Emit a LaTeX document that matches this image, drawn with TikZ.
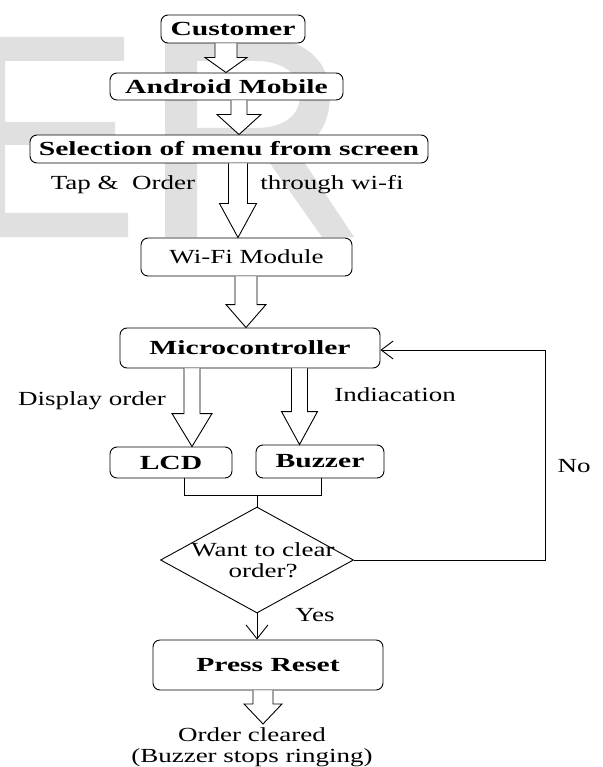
\documentclass[tikz,border=0pt]{standalone}
\usepackage{fontspec}
\setmainfont{Liberation Serif}[UprightFeatures={FakeStretch=1.35},BoldFeatures={FakeStretch=1.48}]
\usetikzlibrary{calc,shapes.geometric,arrows.meta}
\newcommand\blk[6]{%
  \draw[blk] let \p1=(#1.south), \p2=(#2.north) in
    ({(#3-#4)*1pt},\y1) -- ({(#3-#4)*1pt},{\y2+#6*1pt}) -- ({(#3-#5)*1pt},{\y2+#6*1pt})
    -- ({#3*1pt},\y2) -- ({(#3+#5)*1pt},{\y2+#6*1pt}) -- ({(#3+#4)*1pt},{\y2+#6*1pt})
    -- ({(#3+#4)*1pt},\y1);}
\tikzset{
  box/.style={draw, fill=white, rounded corners=7pt, inner sep=0pt, font=\fontsize{20}{21}\selectfont\bfseries},
  pbox/.style={draw, fill=white, rounded corners=7pt, inner sep=0pt},
  lbl/.style={inner sep=0pt},
  blk/.style={draw, fill=white, line join=miter},
  wm/.style={fill=black!12, draw=none, even odd rule},
  barb/.style={-{Straight Barb[length=12pt,width=18pt]}}
}
\begin{document}
\begin{tikzpicture}[x=1pt, y=-1pt, line width=0.9pt, font=\fontsize{20}{21}\selectfont]
\fill[white] (0,0) rectangle (602,767);
\useasboundingbox (0,0) rectangle (602,767);
% watermark
\fill[wm] (0,37) -- (124,37) -- (124,61) -- (5,61) -- (5,122) -- (115,122) -- (115,145)
  -- (5,145) -- (5,213) -- (128,213) -- (128,237) -- (0,237) -- cycle;
\fill[wm] (165,37) -- (258,37) .. controls (305,37) and (330,62) .. (330,95)
  .. controls (330,125) and (315,145) .. (296,150) -- (354,237) -- (322,237) -- (262,152)
  -- (197,152) -- (197,237) -- (165,237) -- cycle
  (197,61) -- (255,61) .. controls (285,61) and (300,75) .. (300,95)
  .. controls (300,115) and (285,128) .. (255,128) -- (197,128) -- cycle;
% nodes
\node[box, minimum width=144pt, minimum height=28pt] (cust) at (233,29) {Customer};
\node[box, minimum width=233pt, minimum height=27pt] (andr) at (226.5,86.5) {Android Mobile};
\node[box, minimum width=398pt, minimum height=28pt] (sel) at (229,149) {Selection of menu from screen};
\node[pbox, minimum width=211pt, minimum height=38pt] (wifi) at (246.5,257) {Wi-Fi Module};
\node[box, minimum width=260pt, minimum height=40pt] (mcu) at (250,348) {Microcontroller};
\node[box, minimum width=122pt, minimum height=31pt] (lcd) at (171,462.5) {LCD};
\node[box, minimum width=128pt, minimum height=33pt] (buz) at (320,461.5) {Buzzer};
\node[diamond, draw, fill=white, minimum width=193pt, minimum height=106pt, inner sep=0pt] (dec) at (257,560) {};
\node[lbl, align=center] (dect) at (263,560) {Want to clear\\order?};
\node[box, minimum width=230pt, minimum height=50pt] (rst) at (268,665) {Press Reset};
\node[lbl, inner ysep=3pt, align=center] (done) at (252,747) {Order cleared\\(Buzzer stops ringing)};
% labels
\node[lbl] (tap) at (123,185) {Tap \&\ \ Order};
\node[lbl] (thr) at (332,185) {through wi-fi};
\node[lbl] (disp) at (92,401) {Display order};
\node[lbl] (ind) at (395,395) {Indiacation};
\node[lbl] (no) at (574,466) {No};
\node[lbl] (yes) at (315,615) {Yes};
% block arrows
\blk{cust}{andr}{226}{11}{21}{15}
\blk{andr}{sel}{239}{8}{22}{20}
\blk{sel}{wifi}{238}{9.5}{18.5}{34}
\blk{wifi}{mcu}{246}{11}{20}{23}
\blk{mcu}{lcd}{192}{8}{20}{33}
\blk{mcu}{buz}{299.5}{8}{18}{33}
\blk{rst}{done}{263}{10}{19}{20}
% join lines
\coordinate (j1) at (184,495);
\coordinate (j2) at (321,495);
\draw (lcd.south -| j1) -- (j1) -- (j2) -- (buz.south -| j2);
\draw (dec.north |- j1) -- (dec.north);
% feedback
\coordinate (fbc) at (545,350);
\draw[barb] (dec.east) -| (fbc) -- (mcu.east |- fbc);
% yes
\draw[-{Straight Barb[length=14pt,width=22pt]}] (dec.south) -- (dec.south |- rst.north);
\end{tikzpicture}
\end{document}
